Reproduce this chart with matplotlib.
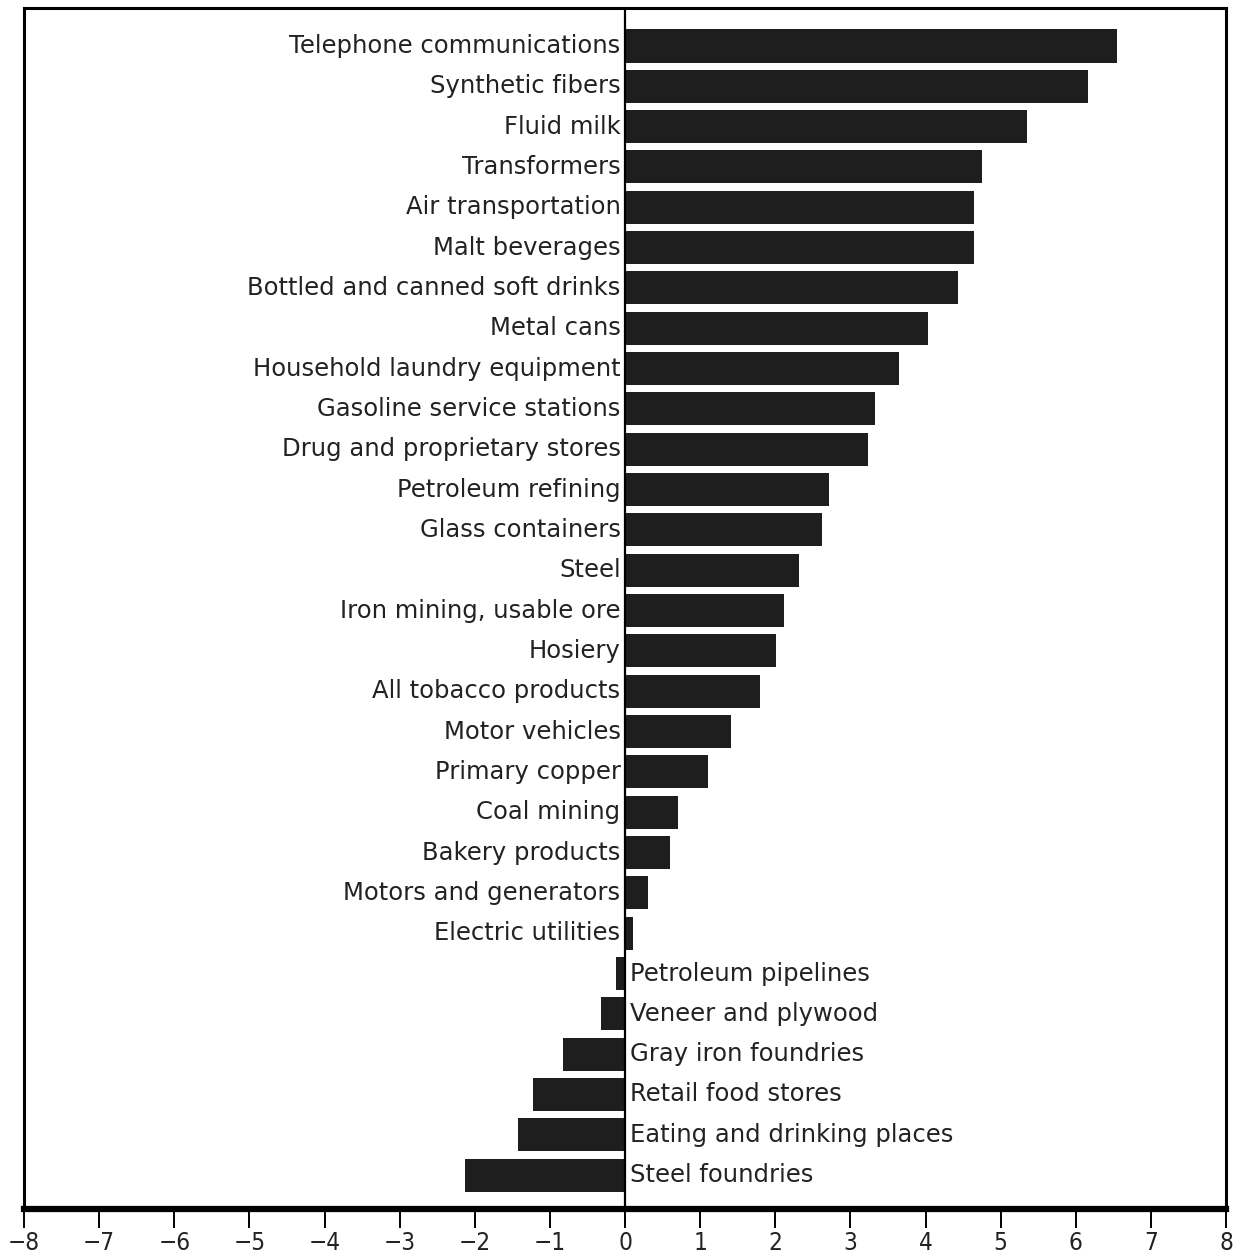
import matplotlib
matplotlib.use("Agg")
import matplotlib.pyplot as plt
import numpy as np

# industries, top to bottom, and their values
industries = [
    "Telephone communications", "Synthetic fibers", "Fluid milk", "Transformers",
    "Air transportation", "Malt beverages", "Bottled and canned soft drinks",
    "Metal cans", "Household laundry equipment", "Gasoline service stations",
    "Drug and proprietary stores", "Petroleum refining", "Glass containers",
    "Steel", "Iron mining, usable ore", "Hosiery", "All tobacco products",
    "Motor vehicles", "Primary copper", "Coal mining", "Bakery products",
    "Motors and generators", "Electric utilities", "Petroleum pipelines",
    "Veneer and plywood", "Gray iron foundries", "Retail food stores",
    "Eating and drinking places", "Steel foundries",
]
values = [
    6.55, 6.16, 5.35, 4.75, 4.65, 4.64, 4.43, 4.03, 3.64, 3.33, 3.23, 2.72,
    2.62, 2.32, 2.12, 2.01, 1.80, 1.41, 1.10, 0.71, 0.60, 0.30, 0.11,
    -0.12, -0.32, -0.82, -1.22, -1.43, -2.13,
]
xticks = list(range(-8, 9))

BAR = "#1e1e1e"
TXT = "#222222"

fig = plt.figure(figsize=(12.36, 12.59), dpi=100)
ax = fig.add_axes([0.0194, 0.0397, 0.9726, 0.9539])

y = np.arange(len(industries))
ax.barh(y, values, height=0.82, color=BAR, zorder=2)
ax.axvline(0, color="black", lw=1.6, zorder=3)

for yi, name, v in zip(y, industries, values):
    if v >= 0:
        ax.text(-0.06, yi, name, ha="right", va="center", fontsize=17.5,
                family="DejaVu Sans", color=TXT)
    else:
        ax.text(0.07, yi, name, ha="left", va="center", fontsize=17.5,
                family="DejaVu Sans", color=TXT)

ax.set_xlim(-8, 8)
ax.set_ylim(len(industries) - 1 + 0.84, -0.94)
ax.set_yticks([])
ax.set_xticks(xticks)
ax.set_xticklabels([str(t).replace("-", "\u2212") for t in xticks],
                   fontsize=17.5, family="DejaVu Sans", fontstretch="condensed",
                   color=TXT)
ax.tick_params(axis="x", direction="out", length=14, width=1.4, pad=2)

for side in ("top", "left", "right"):
    ax.spines[side].set_linewidth(2.2)
ax.spines["bottom"].set_linewidth(4.5)

fig.savefig("out.png", dpi=100)
